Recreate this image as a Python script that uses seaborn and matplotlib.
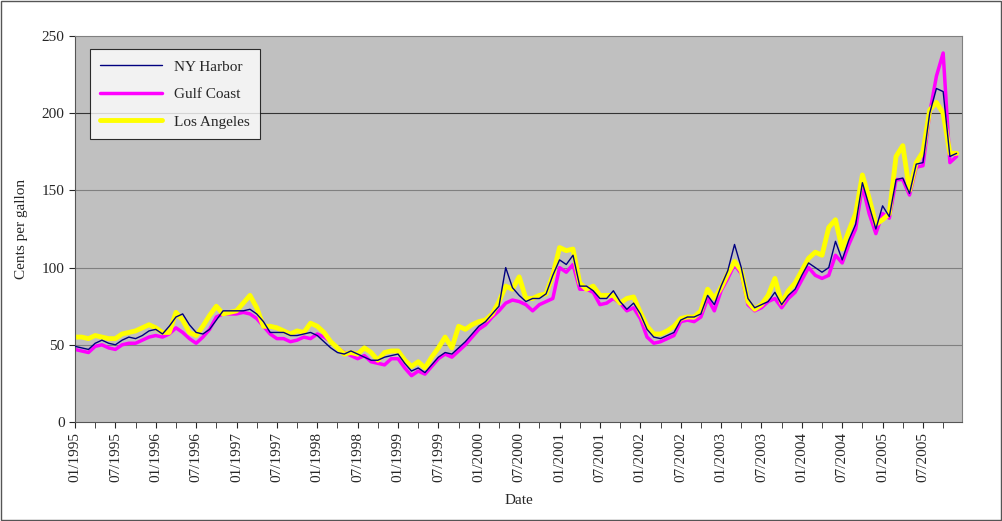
import numpy as np
import pandas as pd
import matplotlib
matplotlib.use("Agg")
import matplotlib.pyplot as plt
import seaborn as sns

# monthly prices, cents per gallon, 01/1995 - 12/2005
ny_harbor = [
    49, 48, 47, 51, 53, 51, 50, 53, 55, 54, 56, 59,
    60, 57, 62, 68, 70, 63, 58, 57, 60, 66, 72, 72,
    72, 72, 73, 70, 65, 58, 58, 58, 56, 56, 57, 58,
    56, 52, 48, 45, 44, 46, 44, 42, 40, 40, 42, 43,
    44, 38, 33, 35, 32, 37, 42, 45, 44, 48, 52, 57,
    62, 65, 70, 75, 100, 87, 82, 78, 80, 80, 83, 95,
    105, 102, 108, 88, 88, 85, 80, 80, 85, 78, 73, 77,
    70, 60, 55, 54, 56, 58, 66, 68, 68, 70, 82, 76,
    88, 98, 115, 100, 80, 74, 76, 78, 84, 76, 82, 86,
    95, 103, 100, 97, 100, 117, 105, 118, 128, 155, 140, 125,
    140, 133, 157, 158, 148, 167, 168, 200, 216, 214, 172, 174,
]
gulf_coast = [
    47, 46, 45, 49, 50, 48, 47, 50, 51, 51, 53, 55,
    56, 55, 57, 61, 58, 54, 51, 55, 60, 68, 70, 70,
    70, 71, 70, 67, 62, 57, 54, 54, 52, 53, 55, 54,
    57, 55, 52, 48, 45, 43, 41, 43, 39, 38, 37, 41,
    41, 35, 30, 33, 31, 36, 41, 44, 42, 46, 50, 55,
    60, 63, 68, 72, 77, 79, 78, 76, 72, 76, 78, 80,
    100, 97, 102, 86, 86, 84, 76, 77, 80, 77, 72, 74,
    67, 55, 51, 52, 54, 56, 65, 66, 65, 68, 80, 72,
    85, 93, 102, 96, 76, 72, 74, 78, 80, 74, 80, 84,
    92, 100, 95, 93, 95, 108, 103, 115, 125, 153, 135, 122,
    135, 132, 157, 157, 147, 165, 166, 200, 224, 239, 168, 172,
]
los_angeles = [
    55, 55, 54, 56, 55, 54, 54, 57, 58, 59, 61, 63,
    61, 58, 58, 71, 66, 58, 56, 62, 69, 75, 70, 71,
    72, 77, 82, 74, 62, 62, 61, 59, 57, 59, 58, 64,
    62, 58, 52, 48, 44, 45, 44, 48, 45, 40, 45, 46,
    46, 40, 36, 39, 35, 42, 48, 55, 48, 62, 60, 63,
    65, 66, 70, 78, 88, 86, 94, 80, 80, 82, 83, 95,
    113, 111, 112, 90, 86, 88, 82, 82, 82, 77, 80, 81,
    71, 62, 57, 57, 59, 62, 67, 68, 68, 72, 86, 80,
    87, 96, 104, 98, 78, 73, 76, 82, 93, 77, 85, 90,
    98, 106, 110, 108, 126, 131, 112, 124, 135, 160, 145, 128,
    131, 135, 172, 179, 150, 168, 175, 202, 207, 200, 174, 174,
]
dates = pd.date_range("1995-01", periods=len(ny_harbor), freq="MS")
tick_labels = [d.strftime("%m/%Y") for d in dates[::6]]

series = ["NY Harbor", "Gulf Coast", "Los Angeles"]
colors = {"NY Harbor": "#000080", "Gulf Coast": "#FF00FF", "Los Angeles": "#FFFF00"}
widths = {"NY Harbor": 1.0, "Gulf Coast": 2.5, "Los Angeles": 3.5}

df = pd.DataFrame({"month": np.arange(len(dates)),
                   "NY Harbor": ny_harbor,
                   "Gulf Coast": gulf_coast,
                   "Los Angeles": los_angeles})
long = df.melt(id_vars="month", var_name="series", value_name="cents")

sns.set_style("white")
plt.rcParams["font.family"] = ["Liberation Serif", "DejaVu Serif"]

fig = plt.figure(figsize=(10.03, 5.21), dpi=100)
fig.patches.append(plt.Rectangle((0.001, 0.001), 0.997, 0.997, transform=fig.transFigure,
                                 fill=False, edgecolor="#555555", linewidth=1))
ax = fig.add_axes([75 / 1003, 1 - 422 / 521, 887 / 1003, 386 / 521])
ax.set_facecolor("#C0C0C0")

for s in series:
    sns.lineplot(data=long[long["series"] == s], x="month", y="cents", ax=ax,
                 color=colors[s], linewidth=widths[s], label=s, zorder=3 if s == "NY Harbor" else 2)

ax.set_xlim(0, len(dates) - 0.2)
ax.set_ylim(0, 250)
ax.set_yticks(range(0, 251, 50))
ax.set_xticks(np.arange(0, len(dates), 6))
ax.set_xticks(np.arange(0, len(dates), 3), minor=True)
ax.set_xticklabels(tick_labels, rotation=90, fontsize=11)
ax.tick_params(axis="x", which="both", direction="out", length=4, bottom=True)
ax.tick_params(axis="y", direction="out", length=4, left=True, labelsize=11)
for y in (50, 100, 150):
    ax.axhline(y, color="#808080", linewidth=0.8, zorder=1)
ax.axhline(200, color="#333333", linewidth=0.8, zorder=1)
for sp in ax.spines.values():
    sp.set_color("#808080")
ax.spines["left"].set_color("#555555")
ax.spines["bottom"].set_color("#555555")

ax.set_xlabel("Date", fontsize=11, labelpad=8)
ax.set_ylabel("Cents per gallon", fontsize=11, labelpad=10)

leg = ax.legend(loc="upper left", bbox_to_anchor=(0.008, 0.985), fontsize=11,
                frameon=True, fancybox=False, edgecolor="black", facecolor="white",
                handlelength=4.0, borderpad=0.7, labelspacing=0.9, handletextpad=0.8)
leg.get_frame().set_linewidth(0.8)

fig.savefig("out.png", dpi=100)
